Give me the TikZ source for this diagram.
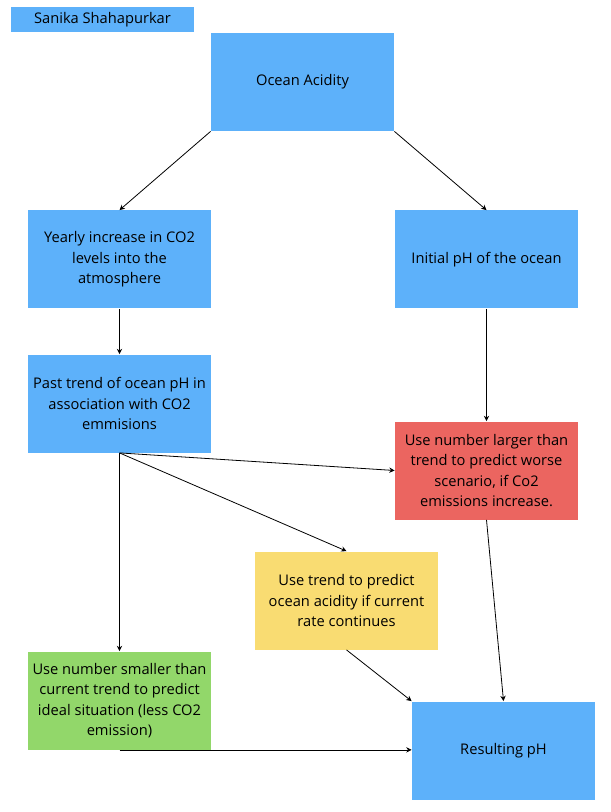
\documentclass[tikz,border=0pt]{standalone}
\usepackage{fontspec}
\setmainfont{Open Sans}
\usepackage{xcolor}
\usetikzlibrary{arrows.meta}
\usetikzlibrary{positioning}

\definecolor{skyblue}{HTML}{5DB1FA}
\definecolor{warnred}{HTML}{EB6560}
\definecolor{sunyellow}{HTML}{F9DC72}
\definecolor{leafgreen}{HTML}{92D76A}

\begin{document}
\begin{tikzpicture}[x=0.75pt, y=-0.75pt, ->, >={Stealth[length=4pt,width=4pt]}, semithick]
    \tikzstyle{box}=[rectangle, fill=skyblue, minimum width=137.25pt, minimum height=73.5pt, align=center, inner sep=2pt, font=\fontsize{11}{15.4}\selectfont]
    \useasboundingbox (0,0) rectangle (610,812);

    \node[box, minimum height=18.75pt] (author) at (102.5,19.5) {Sanika Shahapurkar};
    \node[box] (ocean) at (302.5,82) {Ocean Acidity};
    \node[box] (yearly) at (119.5,259.5) {Yearly increase in CO2\\levels into the\\atmosphere};
    \node[box] (initial) at (486.5,259.5) {Initial pH of the ocean};
    \node[box] (past) at (119.5,403.5) {Past trend of ocean pH in\\association with CO2\\emmisions};
    \node[box, fill=warnred] (worse) at (486.5,470.5) {Use number larger than\\trend to predict worse\\scenario, if Co2\\emissions increase.};
    \node[box, fill=sunyellow] (current) at (346.5,600.5) {Use trend to predict\\ocean acidity if current\\rate continues};
    \node[box, fill=leafgreen] (ideal) at (119.5,700.5) {Use number smaller than\\current trend to predict\\ideal situation (less CO2\\emission)};
    \node[box] (result) at (503.5,750.5) {Resulting pH};

    \draw (ocean.south west) -- (yearly.north);
    \draw (ocean.south east) -- (initial.north);
    \draw (yearly) -- (past);
    \draw (initial) -- (worse);
    \draw (past.south) -- (worse.west);
    \draw (past.south) -- (current.north);
    \draw (past.south) -- (ideal.north);
    \draw (current.south) -- (result.north west);
    \draw (worse.south) -- (result.north);
    \draw (ideal.south) -- (ideal.south -| result.west);
\end{tikzpicture}
\end{document}
